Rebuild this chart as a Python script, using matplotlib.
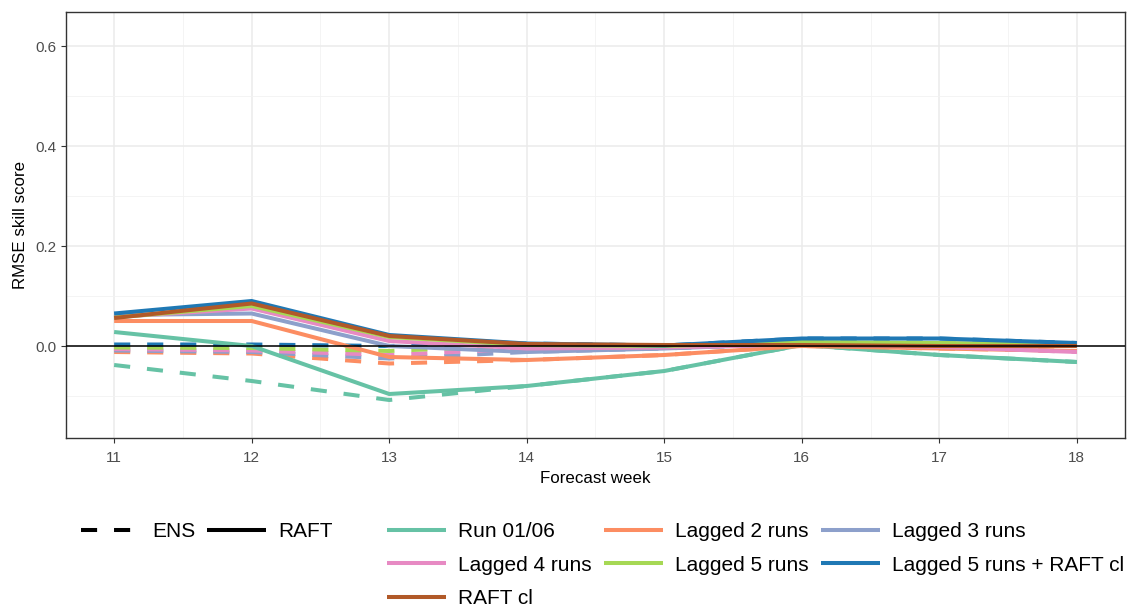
import matplotlib
matplotlib.use("Agg")
import matplotlib.pyplot as plt
from matplotlib.lines import Line2D

plt.rcParams['font.family'] = ['Liberation Sans', 'DejaVu Sans']

weeks = [11, 12, 13, 14, 15, 16, 17, 18]
series_names = ["Run 01/06", "Lagged 2 runs", "Lagged 3 runs", "Lagged 4 runs",
                "Lagged 5 runs", "Lagged 5 runs + RAFT cl", "RAFT cl"]
colors = ["#66c2a5", "#fc8d62", "#8da0cb", "#e78ac3", "#a6d854", "#1f78b4", "#b15928"]

raft = {
    "Run 01/06":               [0.028, 0.000, -0.096, -0.080, -0.050, 0.002, -0.018, -0.032],
    "Lagged 2 runs":           [0.050, 0.050, -0.022, -0.028, -0.018, 0.000, -0.005, -0.010],
    "Lagged 3 runs":           [0.062, 0.065, 0.000, -0.012, -0.005, 0.005, 0.005, 0.005],
    "Lagged 4 runs":           [0.058, 0.075, 0.010, -0.005, -0.003, 0.003, -0.002, -0.012],
    "Lagged 5 runs":           [0.057, 0.080, 0.018, 0.002, 0.000, 0.008, 0.006, 0.002],
    "Lagged 5 runs + RAFT cl": [0.065, 0.090, 0.022, 0.005, 0.001, 0.015, 0.015, 0.006],
    "RAFT cl":                 [0.056, 0.085, 0.020, 0.004, 0.002, 0.002, 0.000, 0.000],
}
ens = {
    "Run 01/06":               [-0.038, -0.070, -0.108, -0.080, -0.050, 0.002, -0.018, -0.032],
    "Lagged 2 runs":           [-0.012, -0.015, -0.035, -0.028, -0.018, 0.000, -0.005, -0.010],
    "Lagged 3 runs":           [-0.009, -0.012, -0.025, -0.012, -0.005, 0.005, 0.005, 0.005],
    "Lagged 4 runs":           [-0.006, -0.009, -0.018, -0.005, -0.003, 0.003, -0.002, -0.012],
    "Lagged 5 runs":           [-0.003, -0.004, -0.010, 0.002, 0.000, 0.008, 0.006, 0.002],
    "Lagged 5 runs + RAFT cl": [0.003, 0.003, 0.000, 0.005, 0.001, 0.015, 0.015, 0.006],
}

W, H = 1129, 607
fig = plt.figure(figsize=(W / 100, H / 100), dpi=100)
ax = fig.add_axes([66 / W, 1 - 438 / H, (1125 - 66) / W, (438 - 12) / H])

lw = 2.9
for name, c in zip(series_names, colors):
    if name in ens:
        ax.plot(weeks, ens[name], color=c, lw=lw, dashes=(4, 4.2),
                dash_capstyle='butt', zorder=3)
for name, c in zip(series_names, colors):
    ax.plot(weeks, raft[name], color=c, lw=lw, solid_capstyle='butt', zorder=4)

ax.axhline(0, color='black', lw=1.1, zorder=5)

ax.set_xlim(10.65, 18.35)
ax.set_ylim(-0.184, 0.668)
ax.set_xticks(weeks)
ax.set_xticks([w + 0.5 for w in weeks[:-1]], minor=True)
ax.set_yticks([0.0, 0.2, 0.4, 0.6])
ax.set_yticks([-0.1, 0.1, 0.3, 0.5], minor=True)
ax.set_yticklabels(["0.0", "0.2", "0.4", "0.6"])
ax.grid(which='major', color='#ebebeb', lw=1.1, zorder=0)
ax.grid(which='minor', color='#f2f2f2', lw=0.6, zorder=0)
ax.set_axisbelow(True)
ax.tick_params(which='major', length=3.5, width=0.8, color='#333333',
               labelsize=11, labelcolor='#4d4d4d', pad=3)
ax.tick_params(axis='x', which='major', pad=6)
ax.tick_params(which='minor', length=0)
for s in ax.spines.values():
    s.set_color('#333333')
    s.set_linewidth(1.0)
ax.set_xlabel("Forecast week", fontsize=12.2, labelpad=4.5)
ax.set_ylabel("RMSE skill score", fontsize=12.2, labelpad=6)

# linetype legend
lt_handles = [Line2D([], [], color='black', lw=lw, dashes=(4, 4.2), dash_capstyle='butt'),
              Line2D([], [], color='black', lw=lw, solid_capstyle='butt')]
leg1 = fig.legend(lt_handles, ["ENS", "RAFT"], loc='upper left',
                  bbox_to_anchor=(81 / W, 1 - 522 / H), ncol=2, frameon=False,
                  fontsize=15, handlelength=2.83, handletextpad=0.58,
                  columnspacing=0.58, borderaxespad=0, borderpad=0)

# colour legend, row-major order in 3 columns
order = [0, 3, 6, 1, 4, 2, 5]
c_handles = [Line2D([], [], color=colors[i], lw=lw, solid_capstyle='butt') for i in order]
c_labels = [series_names[i] for i in order]
leg2 = fig.legend(c_handles, c_labels, loc='upper left',
                  bbox_to_anchor=(387 / W, 1 - 522 / H), ncol=3, frameon=False,
                  fontsize=15, handlelength=2.83, handletextpad=0.58,
                  columnspacing=0.6, labelspacing=0.7, borderaxespad=0, borderpad=0)

fig.savefig("out.png", dpi=100)
